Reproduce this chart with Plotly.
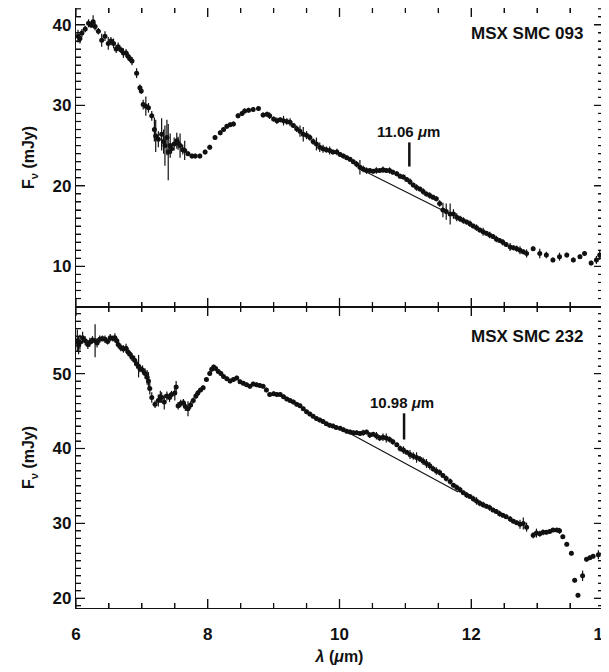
import plotly.graph_objects as go

# ---------------- data: MSX SMC 093 (top panel) ----------------
top_wl = [6.03, 6.06, 6.09, 6.14, 6.19, 6.23, 6.26, 6.29, 6.34, 6.39, 6.44, 6.49, 6.53, 6.57, 6.61,
          6.64, 6.68, 6.72, 6.76, 6.79, 6.82, 6.85, 6.92, 6.97, 6.99, 7.02, 7.06, 7.10, 7.15, 7.19,
          7.21, 7.25, 7.30, 7.33, 7.35, 7.38, 7.40, 7.43, 7.45, 7.49, 7.53, 7.55, 7.58, 7.62, 7.65,
          7.70, 7.76, 7.81, 7.88, 7.96, 8.03, 8.11, 8.19, 8.24, 8.29, 8.34, 8.39, 8.46, 8.52, 8.56,
          8.62, 8.69, 8.77, 8.84, 8.90, 8.94, 9.00, 9.05, 9.10, 9.15, 9.20, 9.25, 9.30, 9.35, 9.40,
          9.45, 9.50, 9.55, 9.60, 9.65, 9.70, 9.75, 9.80, 9.85, 9.90, 9.96, 10.01, 10.06, 10.11, 10.16,
          10.21, 10.26, 10.31, 10.36, 10.41, 10.46, 10.51, 10.56, 10.61, 10.66, 10.71, 10.76, 10.81,
          10.87, 10.92, 10.97, 11.02, 11.07, 11.12, 11.17, 11.22, 11.27, 11.32, 11.37, 11.42, 11.47,
          11.52, 11.57, 11.62, 11.68, 11.73, 11.78, 11.83, 11.88, 11.93, 11.98, 12.03, 12.08, 12.13,
          12.18, 12.23, 12.28, 12.33, 12.38, 12.43, 12.48, 12.53, 12.59, 12.64, 12.69, 12.74, 12.79,
          12.84, 12.94, 13.04, 13.14, 13.24, 13.34, 13.45, 13.55, 13.65, 13.72, 13.82, 13.90, 13.95]
top_flux = [38.6, 38.3, 39.0, 39.5, 40.2, 40.0, 40.4, 39.8, 39.2, 38.1, 38.6, 37.7, 38.0, 37.7, 37.0,
            37.3, 36.9, 36.5, 36.5, 36.1, 35.8, 35.5, 34.0, 32.2, 31.8, 30.1, 29.9, 29.7, 28.7, 27.0,
            26.2, 25.8, 26.4, 25.5, 25.0, 26.0, 24.2, 25.0, 24.6, 25.2, 25.6, 25.3, 25.0, 24.5, 24.4,
            24.0, 23.7, 23.7, 23.7, 24.2, 24.8, 26.0, 26.6, 27.0, 27.4, 27.6, 27.7, 28.7, 29.0, 29.3,
            29.4, 29.5, 29.6, 28.8, 28.9, 28.7, 28.3, 28.1, 28.2, 28.1, 28.0, 27.9, 27.5, 27.1, 26.8,
            26.4, 26.3, 26.0, 25.5, 25.2, 24.8, 24.6, 24.5, 24.4, 24.2, 24.2, 23.9, 23.7, 23.5, 23.3,
            23.0, 22.7, 22.3, 22.1, 21.9, 21.9, 21.8, 21.9, 21.9, 22.0, 21.9, 21.9, 21.7,
            21.5, 21.2, 21.1, 20.8, 20.5, 20.1, 19.8, 19.6, 19.3, 19.0, 18.8, 18.6, 18.4,
            17.8, 17.0, 16.8, 16.5, 16.5, 16.1, 15.9, 15.7, 15.5, 15.3, 15.0, 14.8, 14.5,
            14.3, 14.1, 13.9, 13.7, 13.4, 13.2, 13.0, 12.7, 12.4, 12.3, 12.2, 12.0, 11.8,
            11.6, 12.2, 11.6, 11.4, 10.8, 11.2, 11.4, 10.8, 11.2, 11.6, 10.4, 10.8, 11.4]
top_err = [0.8, 0.6, 0.5, 0.4, 0.5, 0.4, 0.8, 0.5, 0.4, 0.8, 0.6, 0.8, 0.5, 0.6, 0.5,
           0.5, 0.4, 0.6, 0.5, 0.5, 0.4, 0.5, 0.6, 0.4, 0.4, 0.6, 1.2, 0.6, 0.6, 1.5,
           2.0, 1.0, 2.0, 1.5, 2.5, 2.2, 3.5, 1.5, 0.6, 0.8, 1.0, 0.8, 1.5, 0.6, 1.2,
           0.3, 0.3, 0.3, 0.3, 0.3, 0.3, 0.3, 0.3, 0.3, 0.3, 0.3, 0.3, 0.3, 0.3, 0.3,
           0.3, 0.3, 0.3, 0.3, 0.3, 0.4, 0.3, 0.4, 0.3, 0.6, 0.4, 0.5, 0.3, 0.4, 0.7,
           0.9, 0.5, 0.4, 0.4, 0.8, 0.6, 0.5, 0.4, 0.5, 0.3, 0.4, 0.3, 0.3, 0.3, 0.3,
           0.3, 0.4, 0.9, 0.4, 0.4, 0.3, 0.3, 0.4, 0.3, 0.4, 0.3, 0.4, 0.3,
           0.3, 0.3, 0.3, 0.3, 0.4, 0.3, 0.4, 0.3, 0.4, 0.3, 0.4, 0.3, 0.3,
           0.4, 0.9, 1.0, 1.3, 0.6, 0.5, 0.4, 0.4, 0.3, 0.4, 0.3, 0.4, 0.3,
           0.5, 0.3, 0.4, 0.3, 0.4, 0.3, 0.4, 0.3, 0.5, 0.3, 0.4, 0.5, 0.3,
           0.5, 0.3, 0.6, 0.4, 0.3, 0.5, 0.3, 0.3, 0.3, 0.3, 0.3, 0.5, 0.6]
top_cont_wl = [10.30, 11.70]
top_cont_flux = [22.15, 16.40]

# ---------------- data: MSX SMC 232 (bottom panel) ----------------
bot_wl = [6.02, 6.04, 6.06, 6.10, 6.14, 6.18, 6.21, 6.25, 6.29, 6.32, 6.36, 6.40, 6.44, 6.48, 6.52,
          6.56, 6.59, 6.62, 6.64, 6.68, 6.72, 6.76, 6.79, 6.82, 6.85, 6.89, 6.92, 6.95, 6.97, 7.01,
          7.05, 7.08, 7.10, 7.12, 7.15, 7.20, 7.25, 7.28, 7.30, 7.34, 7.38, 7.42, 7.45, 7.50, 7.52,
          7.55, 7.59, 7.63, 7.66, 7.70, 7.74, 7.78, 7.82, 7.85, 7.89, 7.93, 7.98, 8.03, 8.06, 8.09,
          8.12, 8.16, 8.20, 8.24, 8.29, 8.34, 8.39, 8.44, 8.49, 8.54, 8.59, 8.64, 8.69, 8.74, 8.79,
          8.84, 8.89, 8.94, 9.00, 9.05, 9.10, 9.15, 9.20, 9.25, 9.30, 9.35, 9.40, 9.45, 9.50, 9.55,
          9.60, 9.65, 9.70, 9.75, 9.80, 9.85, 9.90, 9.95, 10.01, 10.06, 10.11, 10.16, 10.21, 10.26,
          10.31, 10.36, 10.41, 10.46, 10.51, 10.56, 10.61, 10.66, 10.71, 10.76, 10.81, 10.87, 10.92,
          10.97, 11.02, 11.07, 11.12, 11.17, 11.22, 11.27, 11.32, 11.37, 11.42, 11.47, 11.52, 11.57,
          11.62, 11.68, 11.73, 11.78, 11.83, 11.88, 11.93, 11.98, 12.03, 12.08, 12.13, 12.18, 12.23,
          12.28, 12.33, 12.38, 12.43, 12.48, 12.53, 12.59, 12.64, 12.69, 12.74, 12.79, 12.84, 12.94,
          12.99, 13.04, 13.09, 13.14, 13.19, 13.24, 13.30, 13.34, 13.39, 13.45, 13.52, 13.57, 13.62,
          13.69, 13.75, 13.80, 13.85, 13.93]
bot_flux = [54.4, 53.8, 54.2, 54.8, 54.4, 53.9, 54.2, 54.5, 54.4, 54.1, 54.6, 54.7, 54.6, 54.3, 54.8,
            54.7, 54.8, 54.4, 53.9, 53.5, 53.3, 53.4, 52.9, 52.6, 52.2, 51.8, 51.3, 51.0, 50.7, 50.5,
            50.0, 49.5, 49.0, 48.0, 46.8, 45.9, 46.4, 46.9, 46.8, 46.2, 47.0, 46.8, 47.2, 47.4, 48.2,
            45.7, 46.0, 46.1, 45.6, 45.3, 45.8, 46.4, 47.0, 47.4, 47.8, 48.1, 49.2, 50.0, 50.6, 50.9,
            50.7, 50.3, 50.0, 49.6, 49.3, 49.0, 49.2, 49.4, 48.9, 48.7, 48.5, 48.3, 48.6, 48.5, 48.4,
            48.3, 47.8, 47.2, 47.3, 47.2, 47.2, 46.9, 46.6, 46.4, 46.2, 45.9, 45.7, 45.3, 44.9, 44.6,
            44.3, 44.0, 43.8, 43.6, 43.3, 43.1, 43.0, 42.8, 42.7, 42.5, 42.3, 42.2, 42.1, 42.1,
            42.0, 42.1, 42.2, 41.8, 41.9, 41.7, 41.4, 41.5, 41.4, 41.2, 40.9, 40.5, 40.0,
            39.8, 39.5, 39.2, 39.0, 38.8, 38.6, 38.3, 38.0, 37.7, 37.3, 37.0, 36.8, 36.4,
            36.0, 35.6, 35.1, 34.8, 34.5, 34.1, 33.8, 33.6, 33.3, 33.0, 32.7, 32.5, 32.3,
            32.1, 31.8, 31.6, 31.3, 31.1, 30.9, 30.6, 30.3, 30.1, 29.9, 30.0, 29.5, 28.4,
            28.7, 28.6, 28.8, 28.8, 28.9, 29.1, 29.1, 29.0, 28.2, 27.2, 26.0, 22.4, 20.4,
            23.0, 25.2, 25.4, 25.6, 25.8]
bot_err = [1.5, 1.2, 1.0, 0.8, 0.6, 0.6, 0.6, 0.5, 2.2, 0.6, 0.5, 0.4, 0.5, 0.4, 0.5,
           0.4, 0.6, 0.4, 0.5, 0.5, 0.5, 0.6, 0.5, 0.4, 0.5, 0.6, 0.6, 1.5, 0.5, 0.6,
           0.7, 1.0, 1.2, 0.8, 0.7, 0.5, 0.8, 0.8, 0.7, 1.0, 0.6, 0.6, 0.5, 1.0, 0.8,
           0.5, 0.5, 0.5, 0.6, 1.0, 0.5, 0.4, 0.4, 0.4, 0.3, 0.3, 0.3, 0.3, 0.3, 0.3,
           0.3, 0.3, 0.3, 0.3, 0.3, 0.3, 0.3, 0.3, 0.3, 0.3, 0.3, 0.3, 0.3, 0.3, 0.3,
           0.3, 0.3, 0.3, 0.3, 0.3, 0.3, 0.3, 0.3, 0.3, 0.3, 0.3, 0.3, 0.3, 0.3, 0.3,
           0.3, 0.3, 0.3, 0.3, 0.3, 0.3, 0.3, 0.3, 0.3, 0.3, 0.3, 0.3, 0.3, 0.3,
           0.3, 0.4, 0.3, 0.4, 0.3, 0.5, 0.4, 0.5, 0.6, 0.4, 0.4, 0.3, 0.4,
           0.5, 0.3, 0.6, 0.5, 0.7, 0.4, 0.5, 0.6, 0.5, 0.4, 0.5, 0.4, 0.3,
           0.4, 0.4, 0.3, 0.4, 0.4, 0.3, 0.4, 0.3, 0.4, 0.5, 0.4, 0.4, 0.3,
           0.4, 0.3, 0.3, 0.4, 0.3, 0.3, 0.4, 0.3, 0.3, 0.6, 0.8, 0.6, 0.4,
           0.6, 0.4, 0.4, 0.3, 0.3, 0.3, 0.3, 0.4, 0.3, 0.3, 0.3, 0.3, 0.3,
           0.7, 0.3, 0.3, 0.3, 0.6]
bot_cont_wl = [10.16, 11.80]
bot_cont_flux = [42.0, 34.2]

# feature markers
feat_top = 11.06
feat_bot = 10.98
feat_top_label = "11.06 <i>μ</i>m"
feat_bot_label = "10.98 <i>μ</i>m"
names = ["MSX SMC 093", "MSX SMC 232"]

FONT = "Liberation Sans, Arial, sans-serif"
BLACK = "#111111"
X_RANGE = [6, 14]
Y_RANGE_TOP = [4.95, 42.1]
Y_RANGE_BOT = [18.7, 58.9]

fig = go.Figure()
panels = [("x", "y", top_wl, top_flux, top_err, top_cont_wl, top_cont_flux),
          ("x2", "y2", bot_wl, bot_flux, bot_err, bot_cont_wl, bot_cont_flux)]
for xa, ya, wl, fl, er, cw, cf in panels:
    fig.add_trace(go.Scatter(x=cw, y=cf, xaxis=xa, yaxis=ya, mode="lines",
                             line=dict(color=BLACK, width=1.1), hoverinfo="skip"))
    fig.add_trace(go.Scatter(x=wl, y=fl, xaxis=xa, yaxis=ya, mode="markers",
                             marker=dict(color=BLACK, size=5),
                             error_y=dict(type="data", array=er, color=BLACK, thickness=1.2, width=0)))

common = dict(showline=True, linecolor=BLACK, linewidth=1.3, mirror="ticks",
              ticks="inside", ticklen=9, tickwidth=1.4, tickcolor=BLACK,
              showgrid=False, zeroline=False, layer="above traces",
              tickfont=dict(family=FONT, size=17, color=BLACK, weight="bold"),
              ticklabeloverflow="allow", automargin=False)
xminor = dict(ticks="inside", dtick=0.5, ticklen=5, tickwidth=1.1, tickcolor=BLACK)
yminor = dict(ticks="inside", dtick=1, ticklen=5, tickwidth=1.1, tickcolor=BLACK)
ytitle = dict(text="F<sub>ν</sub> (mJy)", standoff=13,
              font=dict(family=FONT, size=16, color=BLACK, weight="bold"))

fig.update_layout(
    xaxis=dict(common, range=X_RANGE, tickmode="linear", tick0=6, dtick=2, minor=xminor,
               anchor="y", domain=[0, 1], showticklabels=False),
    xaxis2=dict(common, range=X_RANGE, tickmode="linear", tick0=6, dtick=2, minor=xminor,
                anchor="y2", domain=[0, 1], ticklabelstandoff=10,
                title=dict(text="<i>λ</i> (<i>μ</i>m)", standoff=8,
                           font=dict(family=FONT, size=16, color=BLACK, weight="bold"))),
    yaxis=dict(common, range=Y_RANGE_TOP, tickmode="linear", tick0=0, dtick=10, minor=yminor,
               anchor="x", domain=[0.5017, 1.0], title=ytitle),
    yaxis2=dict(common, range=Y_RANGE_BOT, tickmode="linear", tick0=0, dtick=10, minor=yminor,
                anchor="x2", domain=[0.0, 0.5017], title=ytitle),
)

# tick marks drawn as axis-anchored shapes (pixel lengths), so they show on every side
tick_shapes = []
def xtick(xref, yref, xv, yanchor, length, up):
    y0, y1 = (0, length) if up else (-length, 0)
    tick_shapes.append(dict(type="line", xref=xref, yref=yref, x0=xv, x1=xv,
                            ysizemode="pixel", yanchor=yanchor, y0=y0, y1=y1,
                            line=dict(color=BLACK, width=1.3)))
def ytick(xref, yref, yv, xanchor, length, right):
    x0, x1 = (0, length) if right else (-length, 0)
    tick_shapes.append(dict(type="line", xref=xref, yref=yref, y0=yv, y1=yv,
                            xsizemode="pixel", xanchor=xanchor, x0=x0, x1=x1,
                            line=dict(color=BLACK, width=1.2)))

for i in range(0, 17):
    xv = X_RANGE[0] + 0.5 * i
    ln = 9 if i % 4 == 0 else 5
    xtick("x", "y", xv, Y_RANGE_TOP[0], ln, True)
    xtick("x", "y", xv, Y_RANGE_TOP[1], ln, False)
    xtick("x2", "y2", xv, Y_RANGE_BOT[0], ln, True)
    xtick("x2", "y2", xv, Y_RANGE_BOT[1], ln, False)
for xr, yr, rng in [("x", "y", Y_RANGE_TOP), ("x2", "y2", Y_RANGE_BOT)]:
    v = int(rng[0]) + 1
    while v < rng[1]:
        ln = 9 if v % 10 == 0 else 5
        ytick(xr, yr, v, X_RANGE[0], ln, True)
        ytick(xr, yr, v, X_RANGE[1], ln, False)
        v += 1

ann_font = dict(family=FONT, size=17, color=BLACK, weight="bold")
annotations = [
    dict(x=13.72, y=38.9, xref="x", yref="y", text=names[0], showarrow=False,
         xanchor="right", yanchor="middle", font=ann_font),
    dict(x=13.72, y=55.0, xref="x2", yref="y2", text=names[1], showarrow=False,
         xanchor="right", yanchor="middle", font=ann_font),
]
lab_font = dict(family=FONT, size=15, color=BLACK, weight="bold")
annotations += [
    dict(x=feat_top - 0.01, y=26.8, xref="x", yref="y", text=feat_top_label, showarrow=False,
         xanchor="center", yanchor="middle", font=lab_font),
    dict(x=feat_bot - 0.03, y=46.1, xref="x2", yref="y2", text=feat_bot_label, showarrow=False,
         xanchor="center", yanchor="middle", font=lab_font),
]
feature_shapes = [
    dict(type="line", x0=feat_top, x1=feat_top, y0=22.4, y1=25.4, xref="x", yref="y",
         line=dict(color=BLACK, width=2.5)),
    dict(type="line", x0=feat_bot, x1=feat_bot, y0=41.2, y1=44.7, xref="x2", yref="y2",
         line=dict(color=BLACK, width=2.5)),
]

# page body has an 8px margin: size the figure so the plot lands where the reference's does
fig.update_layout(
    width=601, height=664,
    margin=dict(l=68, r=6, t=0, b=64),
    paper_bgcolor="white", plot_bgcolor="white",
    font=dict(family=FONT, color=BLACK),
    showlegend=False,
    annotations=annotations,
    shapes=feature_shapes + tick_shapes,
)

fig.write_html("out.html")
